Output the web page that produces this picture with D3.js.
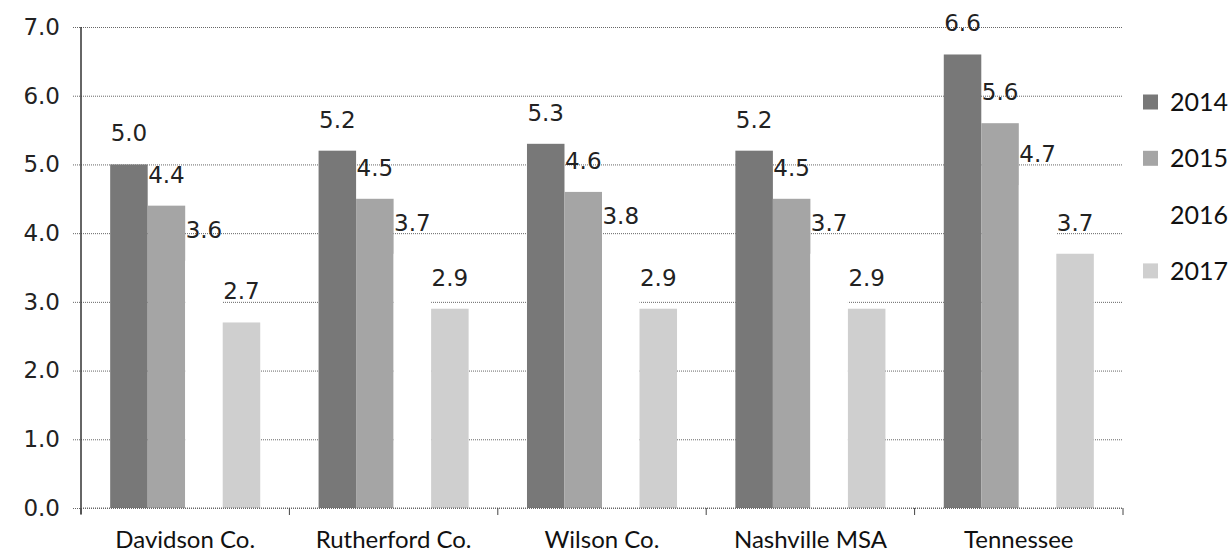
<!DOCTYPE html>
<html>
<head>
<meta charset="utf-8">
<script src="https://cdn.jsdelivr.net/npm/d3@7/dist/d3.min.js"></script>
<style>
  html, body { margin: 0; padding: 0; background: #ffffff; }
  svg { display: block; }
</style>
</head>
<body>
<svg id="chart" width="1232" height="558"></svg>
<script>
// ---- data ----
const categories = ["Davidson Co.", "Rutherford Co.", "Wilson Co.", "Nashville MSA", "Tennessee"];
const seriesNames = ["2014", "2015", "2016", "2017"];
const values2014 = [5.0, 5.2, 5.3, 5.2, 6.6];
const values2015 = [4.4, 4.5, 4.6, 4.5, 5.6];
const values2016 = [3.6, 3.7, 3.8, 3.7, 4.7];
const values2017 = [2.7, 2.9, 2.9, 2.9, 3.7];
const yTicks = [0, 1, 2, 3, 4, 5, 6, 7];
const seriesColors = ["#787878", "#a5a5a5", "#ffffff", "#cfcfcf"];

const seriesValues = [values2014, values2015, values2016, values2017];

// ---- layout ----
const svg = d3.select("#chart");
const plot = { left: 81, right: 1123, top: 27, bottom: 508 };

const x0 = d3.scaleBand()
  .domain(categories)
  .range([plot.left, plot.right])
  .paddingInner(0.28)
  .paddingOuter(0.14);

const x1 = d3.scaleBand()
  .domain(seriesNames)
  .range([0, x0.bandwidth()])
  .padding(0);

const y = d3.scaleLinear().domain([0, 7]).range([plot.bottom, plot.top]);
const color = d3.scaleOrdinal().domain(seriesNames).range(seriesColors);
const fmt = d3.format(".1f");

// ---- gridlines ----
const yAxisG = svg.append("g")
  .attr("transform", `translate(${plot.left},0)`)
  .call(d3.axisLeft(y).tickValues(yTicks).tickFormat(fmt)
    .tickSize(-(plot.right - plot.left)).tickSizeOuter(0).tickPadding(21));
yAxisG.select(".domain").remove();
yAxisG.selectAll(".tick line")
  .attr("stroke", "#666")
  .attr("stroke-width", 1)
  .attr("stroke-dasharray", "1,1")
  .attr("x1", -8);
yAxisG.selectAll(".tick text")
  .attr("font-family", "'DejaVu Sans', Verdana, sans-serif")
  .attr("font-size", 23)
  .attr("fill", "#222");

// ---- bars ----
const groups = svg.append("g").selectAll("g")
  .data(categories)
  .join("g")
  .attr("transform", d => `translate(${x0(d)},0)`);

groups.selectAll("rect")
  .data((c, ci) => seriesNames.map((s, si) => ({ s, v: seriesValues[si][ci] })))
  .join("rect")
  .attr("x", d => x1(d.s))
  .attr("y", d => y(d.v))
  .attr("width", x1.bandwidth())
  .attr("height", d => y(0) - y(d.v))
  .attr("fill", d => color(d.s));

// ---- axes lines ----
svg.append("line")
  .attr("x1", plot.left).attr("x2", plot.left)
  .attr("y1", plot.top).attr("y2", plot.bottom + 6)
  .attr("stroke", "#333").attr("stroke-width", 1.5);

svg.append("line")
  .attr("x1", plot.left).attr("x2", plot.right)
  .attr("y1", plot.bottom).attr("y2", plot.bottom)
  .attr("stroke", "#666").attr("stroke-dasharray", "1,1");

// category boundary ticks
const boundaries = categories.map(c => x0(c) - x0.step() * x0.paddingOuter()).concat([plot.right]);
svg.append("g").selectAll("line")
  .data(boundaries)
  .join("line")
  .attr("x1", d => d).attr("x2", d => d)
  .attr("y1", plot.bottom).attr("y2", plot.bottom + 7)
  .attr("stroke", "#444").attr("stroke-width", 1);

// category labels
svg.append("g").selectAll("text")
  .data(categories)
  .join("text")
  .attr("x", d => x0(d) + x0.bandwidth() / 2)
  .attr("y", 548)
  .attr("text-anchor", "middle")
  .attr("font-family", "Lato, 'Open Sans', sans-serif")
  .attr("font-size", 24)
  .attr("fill", "#111")
  .text(d => d);

// ---- value labels ----
groups.selectAll("text.val")
  .data((c, ci) => seriesNames.map((s, si) => ({ s, v: seriesValues[si][ci] })))
  .join("text")
  .attr("class", "val")
  .attr("x", d => x1(d.s) + x1.bandwidth() / 2)
  .attr("y", d => y(d.v) - 23)
  .attr("text-anchor", "middle")
  .attr("font-family", "'DejaVu Sans', Verdana, sans-serif")
  .attr("font-size", 23)
  .attr("fill", "#222")
  .text(d => fmt(d.v));

// ---- legend ----
const legend = svg.append("g").selectAll("g")
  .data(seriesNames)
  .join("g")
  .attr("transform", (d, i) => `translate(1143, ${102 + i * 56.3})`);
legend.append("rect")
  .attr("x", 0).attr("y", -7.5)
  .attr("width", 15).attr("height", 15)
  .attr("fill", d => color(d));
legend.append("text")
  .attr("x", 27).attr("y", 0)
  .attr("dy", "0.36em")
  .attr("font-family", "Lato, 'Open Sans', sans-serif")
  .attr("font-size", 25)
  .attr("fill", "#111")
  .text(d => d);
</script>
</body>
</html>
